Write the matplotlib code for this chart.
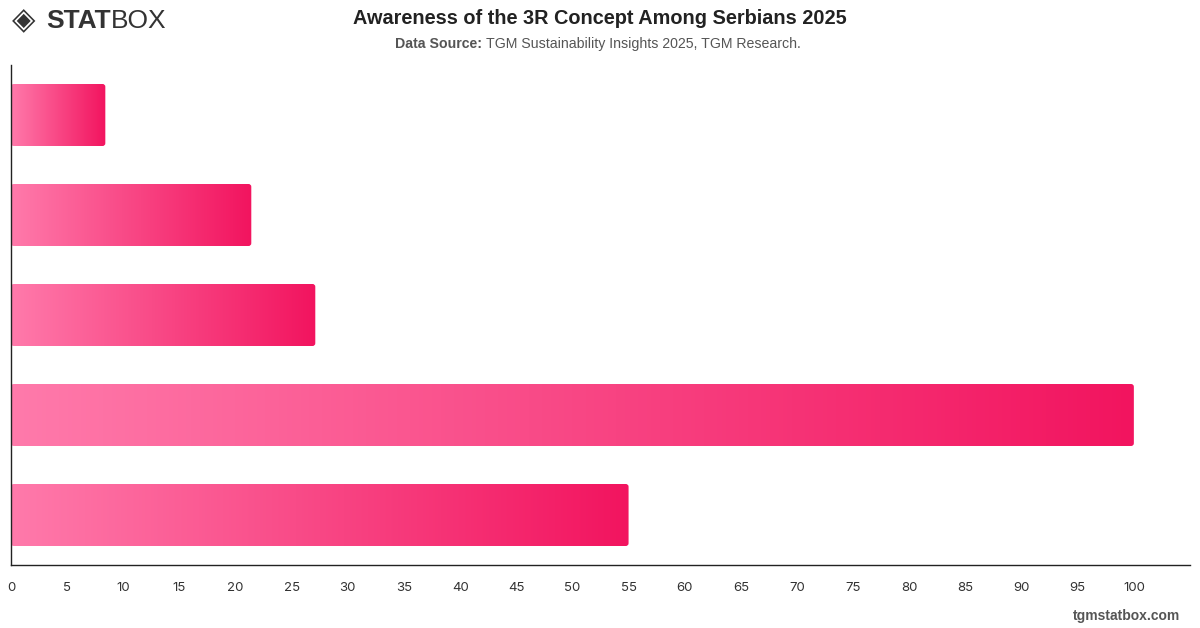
import numpy as np
import matplotlib.pyplot as plt
from matplotlib.patches import FancyBboxPatch
from matplotlib.colors import LinearSegmentedColormap

# values (top bar first)
values = [8.4, 21.4, 27.1, 100, 55]
xticks = list(range(0, 105, 5))

title = "Awareness of the 3R Concept Among Serbians 2025"
source_label = "Data Source:"
source_text = "TGM Sustainability Insights 2025, TGM Research."

plt.rcParams['font.family'] = ['Liberation Sans', 'DejaVu Sans']

fig = plt.figure(figsize=(12, 6.28), dpi=100)
ax = fig.add_axes([11 / 1200, 63 / 628, 1179 / 1200, 500 / 628])

cmap = LinearSegmentedColormap.from_list('pinks', ['#ff7aab', '#f2145f'])
grad = np.linspace(0, 1, 256).reshape(1, -1)

bar_h = 0.62
for i, v in enumerate(values):
    y = i - bar_h / 2
    box = FancyBboxPatch((0, y), v, bar_h,
                         boxstyle="round,pad=0,rounding_size=0.25",
                         mutation_aspect=0.11, linewidth=0,
                         facecolor='none')
    ax.add_patch(box)
    im = ax.imshow(grad, cmap=cmap, aspect='auto',
                   extent=(0, v, y + bar_h, y), zorder=2)
    im.set_clip_path(box)

ax.set_xlim(0, 105)
ax.set_ylim(4.5, -0.5)
ax.set_xticks(xticks)
ax.set_yticks([])
ax.tick_params(axis='x', length=0, pad=12, labelsize=9.5, colors='#333333')
for lab in ax.get_xticklabels():
    lab.set_family(['Inter', 'DejaVu Sans'])
ax.spines['top'].set_visible(False)
ax.spines['right'].set_visible(False)
for s in ('left', 'bottom'):
    ax.spines[s].set_color('#222222')
    ax.spines[s].set_linewidth(1.0)

# header
fig.text(0.5, 1 - 19 / 628, title, ha='center', va='center',
         fontsize=14.3, fontweight='bold', color='#222222')
t1 = fig.text(395 / 1200, 1 - 44 / 628, source_label + " ", ha='left', va='center',
              fontsize=10.2, fontweight='bold', color='#555555')
fig.canvas.draw()
bb = t1.get_window_extent()
fig.text(bb.x1 / 1200, 1 - 44 / 628, source_text, ha='left', va='center',
         fontsize=10.2, color='#555555')

# logo
fig.text(12 / 1200, 1 - 21 / 628, "\u25C8", ha='left', va='center',
         fontsize=22, color='#333333', family='DejaVu Sans')
s1 = fig.text(46 / 1200, 1 - 21 / 628, "STAT", ha='left', va='center',
              fontsize=19, fontweight='heavy', color='#333333')
fig.canvas.draw()
bb = s1.get_window_extent()
fig.text(bb.x1 / 1200, 1 - 21 / 628, "BOX", ha='left', va='center',
         fontsize=19, fontweight='light', color='#333333')

# footer
fig.text(1180 / 1200, 1 - 616 / 628, "tgmstatbox.com", ha='right', va='center',
         fontsize=10, fontweight='bold', color='#555555')

fig.savefig('out.png', dpi=100)
